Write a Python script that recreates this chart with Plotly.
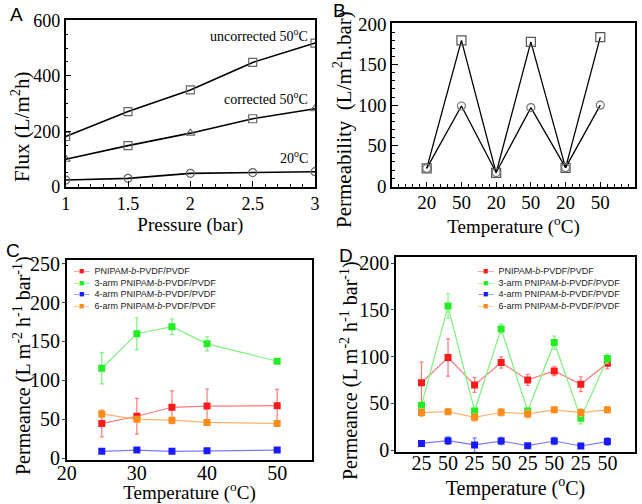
import plotly.graph_objects as go

# ---------------- Data ----------------
# Panel A
pressure = [1, 1.5, 2, 2.5, 3]
flux_uncorr50 = [181, 271, 349, 448, 518]
flux_corr50 = [99, 148, 193, 245, 281]
flux_20 = [24, 30, 48, 51, 54]

# Panel B
b_labels = ["20", "50", "20", "50", "20", "50"]
b_pos = [1, 2, 3, 4, 5, 6]
perm_upper = [22, 180, 16.5, 178, 22.7, 184]
perm_lower = [22, 99, 17, 97, 23, 100]

# Panel C
c_temp = [25, 30, 35, 40, 50]
c_red = [44.6, 54, 65.5, 67, 67.6]
c_red_err = [17, 23, 21, 22, 21]
c_green = [115.6, 160, 169, 147, 124.6]
c_green_err = [20, 20.5, 10, 9, 2]
c_blue = [9, 10.6, 9, 9.8, 10.6]
c_blue_err = [1.5, 1.5, 1.5, 1.5, 1.5]
c_orange = [57, 50, 49, 46, 44.6]
c_orange_err = [5, 3, 3, 2, 2]

# Panel D
d_labels = ["25", "50", "25", "50", "25", "50", "25", "50"]
d_pos = [1, 2, 3, 4, 5, 6, 7, 8]
d_red = [72, 99, 69.6, 93.6, 75, 84.6, 70.4, 92.9]
d_red_err = [22, 20, 8, 6, 6, 5, 8, 6]
d_green = [48, 154, 41.8, 129.6, 41.8, 115, 34, 98]
d_green_err = [3, 13, 3, 5, 3, 7, 6, 5]
d_blue = [7, 10, 5.4, 9.6, 4.6, 9.6, 4.3, 9]
d_blue_err = [3, 4, 7.6, 4, 2, 4, 2, 4]
d_orange = [40, 41, 35, 40.4, 38.6, 43, 40, 43]
d_orange_err = [4, 3, 4, 4, 4, 3, 4, 3]

series_names = ["PNIPAM-<i>b</i>-PVDF/PVDF", "3-arm PNIPAM-<i>b</i>-PVDF/PVDF",
                "4-arm PNIPAM-<i>b</i>-PVDF/PVDF", "6-arm PNIPAM-<i>b</i>-PVDF/PVDF"]
marker_colors = ["#ff1a1a", "#22ee22", "#1a1aff", "#ff8c1a"]
line_colors = ["#ff7a7a", "#7cf57c", "#7a7aff", "#ffb36b"]

y_titles = ["Flux (L/m<sup>2</sup>h)",
            "Permeability  (L/m<sup>2</sup>h.bar)",
            "Permeance (L m<sup>-2</sup> h<sup>-1</sup> bar<sup>-1</sup>)",
            "Permeance (L m<sup>-2</sup> h<sup>-1</sup> bar<sup>-1</sup>)"]

SERIF = "Liberation Serif, Times New Roman, serif"
SANS = "Liberation Sans, Arial, sans-serif"
NB = "\u00a0"

fig = go.Figure()

# ---------------- Panel A ----------------
mk = dict(color="#666", size=8, line=dict(color="#555", width=1.2))
fig.add_trace(go.Scatter(x=pressure, y=flux_uncorr50, mode="lines+markers",
                         line=dict(color="black", width=1.6),
                         marker=dict(symbol="square-open", **mk), xaxis="x", yaxis="y"))
fig.add_trace(go.Scatter(x=pressure, y=flux_corr50, mode="lines+markers",
                         line=dict(color="black", width=1.6),
                         marker=dict(symbol=["triangle-up-open", "square-open", "triangle-up-open",
                                             "square-open", "triangle-up-open"], **mk),
                         xaxis="x", yaxis="y"))
fig.add_trace(go.Scatter(x=pressure, y=flux_20, mode="lines+markers",
                         line=dict(color="black", width=1.6),
                         marker=dict(symbol="circle-open", **mk), xaxis="x", yaxis="y"))

# ---------------- Panel B ----------------
fig.add_trace(go.Scatter(x=b_pos, y=perm_upper, mode="lines+markers",
                         line=dict(color="black", width=1.3),
                         marker=dict(symbol="square-open", size=9, color="#555", line=dict(width=1.2)),
                         xaxis="x2", yaxis="y2"))
fig.add_trace(go.Scatter(x=b_pos, y=perm_lower, mode="lines+markers",
                         line=dict(color="black", width=1.3),
                         marker=dict(symbol="circle-open", size=8, color="#777", line=dict(width=1.2)),
                         xaxis="x2", yaxis="y2"))

# ---------------- Panel C ----------------
for yv, ev, mc, lc in zip([c_red, c_green, c_blue, c_orange],
                          [c_red_err, c_green_err, c_blue_err, c_orange_err],
                          marker_colors, line_colors):
    fig.add_trace(go.Scatter(x=c_temp, y=yv, mode="lines+markers",
                             line=dict(color=lc, width=1.2),
                             marker=dict(symbol="square", size=7, color=mc),
                             error_y=dict(type="data", array=ev, color=lc, thickness=1.2, width=2),
                             xaxis="x3", yaxis="y3"))

# ---------------- Panel D ----------------
for yv, ev, mc, lc in zip([d_red, d_green, d_blue, d_orange],
                          [d_red_err, d_green_err, d_blue_err, d_orange_err],
                          marker_colors, line_colors):
    fig.add_trace(go.Scatter(x=d_pos, y=yv, mode="lines+markers",
                             line=dict(color=lc, width=1.2),
                             marker=dict(symbol="square", size=7, color=mc),
                             error_y=dict(type="data", array=ev, color=lc, thickness=1.2, width=2),
                             xaxis="x4", yaxis="y4"))

# ---------------- Axes ----------------
def ax_common(size=18):
    return dict(showline=True, linecolor="black", linewidth=1.5, mirror=True,
                showgrid=False, zeroline=False, automargin=False,
                tickfont=dict(family=SERIF, size=size, color="black"))

lay = dict(
    xaxis=dict(domain=[0.1023, 0.4907], range=[1, 3], anchor="y",
               tickvals=[1, 1.5, 2, 2.5, 3], ticktext=["1", "1.5", "2", "2.5", "3"],
               ticks="inside", ticklen=6, tickcolor="black",
               minor=dict(dtick=0.1, ticks="inside", ticklen=3, tickcolor="black"),
               title=dict(text="Pressure (bar)", font=dict(family=SERIF, size=19, color="black"),
                          standoff=0),
               **ax_common(18)),
    yaxis=dict(domain=[0.6296, 0.9603], range=[0, 601], anchor="x",
               tickvals=[0, 200, 400, 600], ticks="inside", ticklen=6, tickcolor="black",
               minor=dict(dtick=50, ticks="inside", ticklen=3, tickcolor="black"),
               **ax_common(18)),
    xaxis2=dict(domain=[0.6106, 0.9891], range=[0, 7], anchor="y2",
                tickvals=b_pos, ticktext=b_labels,
                ticks="inside", ticklen=5, tickcolor="black", ticklabelstandoff=-2,
                minor=dict(dtick=0.2, ticks="inside", ticklen=3, tickcolor="black"),
                title=dict(text="Temperature (<sup>o</sup>C)", font=dict(family=SERIF, size=19, color="black"),
                           standoff=0),
                **ax_common(19)),
    yaxis2=dict(domain=[0.6296, 0.9538], range=[-0.5, 201], anchor="x2",
                tickvals=[0, 50, 100, 150, 200], ticks="inside", ticklen=6, tickcolor="black",
                minor=dict(dtick=10, ticks="inside", ticklen=3, tickcolor="black"),
                **ax_common(19)),
    xaxis3=dict(domain=[0.1039, 0.4864], range=[20, 55], anchor="y3",
                tickvals=[20, 30, 40, 50], ticks="", ticklabelstandoff=-6,
                title=dict(text="Temperature (<sup>o</sup>C)", font=dict(family=SERIF, size=19, color="black"),
                           standoff=0),
                **ax_common(20)),
    yaxis3=dict(domain=[0.0873, 0.4847], range=[-2.2, 255], anchor="x3",
                tickvals=[0, 50, 100, 150, 200, 250], ticks="outside", ticklen=3, tickcolor="#444",
                ticklabelstandoff=-2,
                **ax_common(20)),
    xaxis4=dict(domain=[0.6168, 0.9891], range=[0.04, 9.04], anchor="y4",
                tickvals=d_pos, ticktext=d_labels, ticks="", ticklabelstandoff=-7,
                title=dict(text="Temperature (<sup>o</sup>C)", font=dict(family=SERIF, size=20, color="black"),
                           standoff=1),
                **ax_common(20)),
    yaxis4=dict(domain=[0.1038, 0.4891], range=[-1.8, 206], anchor="x4",
                tickvals=[0, 50, 100, 150, 200], ticks="outside", ticklen=3, tickcolor="#444",
                ticklabelstandoff=-2,
                **ax_common(20)),
)

# ---------------- Annotations ----------------
ann = []
# y-axis titles (rotated text)
for txt, x, y, fs in zip(y_titles, [20, 342, 22, 349], [127, 119, 366, 371], [21, 21, 20, 20]):
    ann.append(dict(text=txt, x=x / 642, y=1 - y / 504, xref="paper", yref="paper",
                    xanchor="center", yanchor="middle", textangle=-90, showarrow=False,
                    font=dict(family=SERIF, size=fs, color="black")))
# panel letters
for txt, x, y in [("A", 16, 14), ("B", 339, 10), ("C", 13, 250), ("D", 346, 255)]:
    ann.append(dict(text=txt, x=x / 642, y=1 - y / 504, xref="paper", yref="paper",
                    xanchor="center", yanchor="middle", showarrow=False,
                    font=dict(family=SANS, size=19, color="black")))
# panel A curve labels
for txt, yv in [("uncorrected 50<sup>o</sup>C", 548), ("corrected 50<sup>o</sup>C", 320),
                ("20<sup>o</sup>C", 107)]:
    ann.append(dict(text=txt, x=0.98, y=yv, xref="x domain", yref="y",
                    xanchor="right", yanchor="middle", showarrow=False,
                    font=dict(family=SERIF, size=14, color="black")))

# legends for C and D (text-based)
def legend_text():
    lines = []
    for name, mc, lc in zip(series_names, marker_colors, line_colors):
        lines.append(f"<span style='color:{lc}'>–</span><span style='color:{mc}'>■</span>"
                     f"<span style='color:{lc}'>–</span>{NB}{NB}{name}")
    return "<br>".join(lines)

for x0, y0 in [(72, 264), (476, 264)]:
    ann.append(dict(text=legend_text(), x=x0 / 642, y=1 - y0 / 504, xref="paper", yref="paper",
                    xanchor="left", yanchor="top", align="left", showarrow=False,
                    font=dict(family=SANS, size=9, color="#222")))

fig.update_layout(**lay)
fig.update_layout(annotations=ann, showlegend=False,
                  width=642, height=504,
                  margin=dict(l=0, r=0, t=0, b=0, pad=0, autoexpand=False),
                  paper_bgcolor="white", plot_bgcolor="white")

fig.write_html("out.html", config={"displayModeBar": False},
               post_script="document.body.style.margin='0';document.body.style.padding='0';"
                           "document.body.style.overflow='hidden';")
